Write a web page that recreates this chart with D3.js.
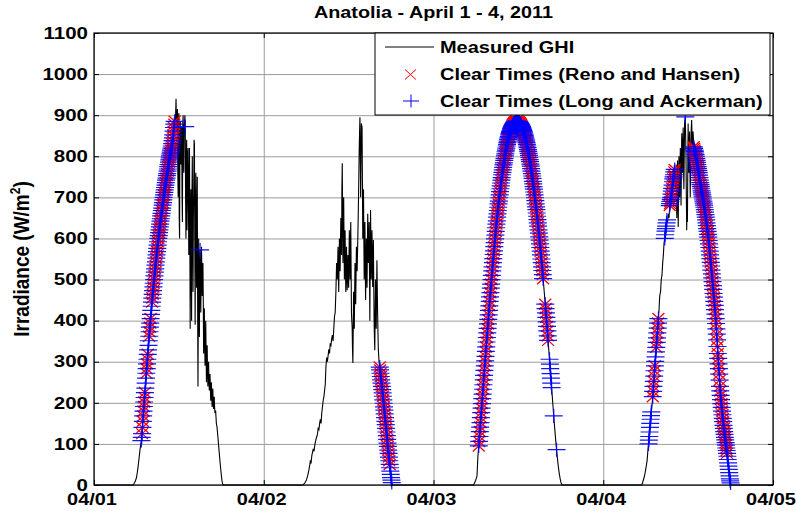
<!DOCTYPE html>
<html>
<head>
<meta charset="utf-8">
<script src="https://cdn.jsdelivr.net/npm/d3@7"></script>
<style>
  body { margin: 0; background: #fff; overflow: hidden; }
  svg { display: block; font-family: 'Liberation Sans', Arial, sans-serif; font-weight: bold; }
</style>
</head>
<body>
<svg id="chart" width="796" height="513"></svg>
<script>
// ---- data ----
const TITLE = 'Anatolia - April 1 - 4, 2011';
const DAY_LABELS = ['04/01', '04/02', '04/03', '04/04', '04/05'];
const Y_TICKS = [0, 100, 200, 300, 400, 500, 600, 700, 800, 900, 1000, 1100];
const LEGEND_LABELS = ['Measured GHI', 'Clear Times (Reno and Hansen)', 'Clear Times (Long and Ackerman)'];

// GHI samples every 3 minutes (one row = one hour), starting at these hours of each day (W/m2)
const SAMPLE_H = 0.05;
const GHI_START = [5.5, 5.5, 5.6, 5.4];
const GHI_0401 = [
  0, 1, 2, 3, 5, 6, 8, 10, 12, 15, 18, 23, 28, 34, 40, 47, 55, 62, 70, 77,
  85, 92, 98, 103, 108, 116, 125, 140, 155, 168, 180, 191, 202, 213, 225, 236, 248, 260, 272, 283,
  295, 306, 318, 329, 340, 351, 362, 373, 384, 394, 405, 415, 425, 435, 445, 455, 464, 473, 482, 491,
  500, 509, 518, 526, 535, 543, 552, 560, 568, 576, 584, 592, 600, 607, 614, 621, 628, 635, 642, 648,
  655, 661, 668, 674, 681, 687, 694, 700, 706, 712, 718, 724, 730, 736, 742, 747, 753, 758, 764, 769,
  775, 780, 786, 791, 796, 801, 806, 810, 815, 820, 825, 831, 838, 845, 852, 861, 870, 878, 885, 860,
  870, 910, 940, 880, 860, 900, 915, 760, 700, 880, 905, 650, 600, 870, 885, 820, 780, 860, 870, 700,
  640, 880, 900, 830, 760, 870, 880, 900, 872, 700, 600, 780, 840, 620, 690, 810, 820, 700, 560, 720,
  820, 600, 380, 650, 720, 520, 400, 700, 800, 620, 470, 650, 720, 840, 830, 600, 390, 620, 760, 650,
  480, 600, 750, 450, 240, 420, 600, 520, 360, 500, 572, 520, 420, 500, 580, 520, 460, 510, 540, 450,
  320, 380, 430, 350, 290, 330, 400, 320, 250, 300, 340, 280, 240, 270, 300, 260, 230, 250, 270, 240,
  205, 230, 250, 215, 190, 210, 235, 200, 185, 200, 215, 190, 175, 180, 180, 165, 150, 145, 140, 130,
  120, 110, 100, 90, 80, 70, 60, 51, 42, 33, 25, 17, 10, 5, 2, 1, 0
];
const GHI_0402 = [
  0, 0, 1, 2, 3, 4, 5, 6, 8, 9, 11, 13, 16, 19, 22, 26, 30, 34, 38, 43,
  48, 54, 60, 52, 55, 64, 72, 76, 80, 84, 88, 85, 82, 88, 95, 100, 105, 108, 112, 115,
  118, 121, 125, 132, 140, 137, 135, 142, 150, 155, 160, 155, 150, 162, 175, 182, 190, 197, 205, 210,
  215, 222, 230, 238, 245, 270, 290, 300, 310, 305, 300, 308, 315, 322, 330, 325, 320, 332, 345, 342,
  340, 348, 355, 360, 365, 358, 350, 365, 380, 395, 410, 415, 420, 445, 470, 505, 540, 520, 500, 540,
  580, 520, 470, 540, 600, 560, 520, 590, 650, 600, 560, 720, 783, 660, 540, 620, 700, 600, 500, 560,
  620, 540, 470, 520, 580, 520, 474, 520, 560, 520, 480, 550, 620, 560, 500, 570, 640, 530, 420, 400,
  384, 330, 297, 380, 470, 420, 380, 460, 540, 490, 440, 510, 580, 550, 520, 560, 600, 650, 700, 760,
  820, 860, 895, 800, 700, 790, 880, 875, 871, 740, 600, 660, 720, 610, 500, 570, 640, 540, 450, 520,
  600, 540, 480, 570, 660, 600, 540, 590, 640, 520, 400, 540, 669, 580, 500, 560, 620, 550, 482, 540,
  596, 500, 400, 360, 328, 420, 500, 440, 380, 460, 547, 480, 418, 370, 330, 315, 300, 293, 287, 280,
  272, 264, 256, 248, 240, 232, 224, 216, 207, 199, 190, 182, 173, 164, 155, 147, 138, 129, 120, 111,
  102, 94, 85, 77, 68, 59, 50, 42, 34, 26, 18, 12, 6, 3, 0
];
const GHI_0403 = [
  0, 1, 2, 3, 5, 7, 9, 11, 14, 16, 19, 22, 40, 60, 75, 86, 95, 106, 118, 130,
  141, 152, 164, 176, 187, 198, 210, 221, 233, 244, 256, 267, 279, 290, 302, 313, 325, 336, 348, 359,
  370, 381, 392, 403, 414, 425, 436, 447, 458, 468, 479, 489, 500, 510, 521, 531, 541, 551, 561, 570,
  580, 590, 599, 608, 617, 626, 635, 643, 652, 660, 668, 676, 684, 691, 699, 706, 714, 721, 728, 735,
  742, 748, 755, 761, 767, 773, 779, 784, 790, 795, 801, 806, 811, 815, 820, 825, 829, 833, 837, 841,
  845, 848, 852, 855, 858, 860, 863, 866, 868, 870, 872, 874, 876, 877, 879, 880, 881, 882, 883, 883,
  884, 884, 885, 885, 885, 885, 884, 884, 884, 883, 883, 882, 881, 880, 879, 877, 876, 874, 872, 870,
  868, 865, 863, 860, 857, 854, 851, 847, 844, 840, 837, 833, 829, 825, 821, 816, 812, 807, 802, 797,
  792, 787, 781, 776, 770, 764, 758, 752, 746, 739, 733, 726, 720, 713, 706, 699, 692, 684, 677, 670,
  662, 654, 646, 638, 630, 621, 613, 604, 596, 587, 578, 569, 560, 550, 541, 531, 522, 512, 502, 492,
  482, 471, 461, 450, 440, 429, 419, 408, 397, 386, 375, 363, 352, 340, 329, 317, 306, 294, 283, 271,
  260, 248, 237, 225, 214, 202, 191, 179, 168, 157, 146, 135, 125, 115, 105, 95, 86, 77, 68, 60,
  52, 45, 38, 32, 26, 21, 16, 12, 8, 5, 3, 1, 0
];
const GHI_0404 = [
  0, 1, 3, 5, 8, 11, 14, 17, 20, 24, 28, 33, 38, 43, 48, 54, 60, 70, 82, 91,
  100, 109, 118, 129, 140, 150, 160, 169, 178, 186, 195, 205, 215, 228, 240, 252, 265, 278, 290, 301,
  312, 324, 335, 347, 358, 370, 382, 394, 405, 418, 430, 450, 462, 466, 470, 485, 500, 505, 510, 525,
  540, 550, 560, 575, 590, 595, 600, 609, 618, 624, 630, 638, 645, 642, 640, 650, 660, 655, 650, 665,
  680, 685, 690, 695, 700, 708, 715, 722, 730, 738, 745, 750, 755, 762, 768, 740, 720, 760, 780, 700,
  650, 720, 790, 700, 628, 720, 800, 760, 700, 770, 820, 740, 680, 780, 856, 800, 760, 820, 870, 780,
  720, 800, 880, 890, 896, 850, 800, 700, 620, 700, 640, 760, 880, 820, 760, 820, 860, 780, 700, 780,
  840, 870, 888, 850, 810, 840, 860, 840, 823, 819, 815, 812, 808, 804, 800, 795, 790, 785, 780, 775,
  770, 765, 760, 754, 748, 742, 736, 731, 726, 721, 716, 711, 706, 701, 696, 691, 686, 681, 676, 670,
  664, 658, 652, 645, 638, 631, 624, 617, 610, 603, 595, 587, 578, 569, 560, 551, 542, 533, 523, 514,
  504, 495, 485, 476, 466, 457, 447, 437, 427, 416, 405, 393, 380, 367, 353, 337, 320, 308, 295, 283,
  270, 255, 240, 229, 218, 208, 198, 189, 180, 171, 162, 154, 145, 138, 130, 123, 116, 110, 103, 97,
  90, 84, 77, 70, 62, 54, 46, 38, 30, 22, 15, 10, 5, 2, 0
];

// clear periods: [day index, from hour, to hour]
const RENO_HANSEN = [
  [0, 6.8, 7.2], [0, 7.4, 7.6], [0, 7.8, 8.0], [0, 8.2, 11.4],
  [1, 16.4, 17.8],
  [2, 6.4, 15.5], [2, 15.8, 16.2],
  [3, 7.0, 7.3], [3, 7.5, 7.8], [3, 9.4, 10.1], [3, 12.8, 17.5]
];
const LONG_ACKERMAN = [
  [0, 6.7, 11.4], [0, 12.9, 12.9], [0, 15.0, 15.0],
  [1, 16.4, 18.1],
  [2, 6.4, 15.5], [2, 15.8, 16.2], [2, 16.4, 16.7], [2, 17.0, 17.0], [2, 17.4, 17.4],
  [3, 6.4, 6.8], [3, 7.0, 7.8], [3, 8.7, 9.0], [3, 9.4, 10.1], [3, 11.6, 11.6], [3, 12.8, 18.0]
];

// ---- build series ----
const toDate = (day, h) => new Date(Date.UTC(2011, 3, 1 + day) + h * 3600e3);
const points = [{ day: -1, h: 0, t: toDate(0, 0), v: 0 }];
[GHI_0401, GHI_0402, GHI_0403, GHI_0404].forEach((vals, d) => {
  vals.forEach((v, i) => {
    const h = Math.round((GHI_START[d] + i * SAMPLE_H) * 100) / 100;
    points.push({ day: d, h: h, t: toDate(d, h), v: v });
  });
});
points.push({ day: -1, h: 0, t: toDate(4, 0), v: 0 });

const inPeriods = (periods) => (p) =>
  periods.some(([d, a, b]) => p.day === d && p.h >= a - 1e-6 && p.h <= b + 1e-6);

// ---- chart ----
const SVG = d3.select('#chart');
const LEFT = 94, RIGHT = 773, TOP = 33, BOTTOM = 485;
const SX = 1.28; // the figure is stretched horizontally

const x = d3.scaleUtc().domain([toDate(0, 0), toDate(4, 0)]).range([LEFT, RIGHT]);
const y = d3.scaleLinear().domain([0, 1100]).range([BOTTOM, TOP]);
const DAY_TICKS = DAY_LABELS.map((d, i) => toDate(i, 0));

// grid
SVG.append('g')
  .attr('transform', `translate(0,${BOTTOM})`)
  .call(d3.axisBottom(x).tickValues(DAY_TICKS).tickSize(-(BOTTOM - TOP)).tickFormat(''))
  .call((g) => g.select('.domain').remove())
  .selectAll('line').attr('stroke', '#9c9c9c');
SVG.append('g')
  .attr('transform', `translate(${LEFT},0)`)
  .call(d3.axisLeft(y).tickValues(Y_TICKS).tickSize(-(RIGHT - LEFT)).tickFormat(''))
  .call((g) => g.select('.domain').remove())
  .selectAll('line').attr('stroke', '#9c9c9c');

// measured GHI
SVG.append('path')
  .datum(points)
  .attr('fill', 'none')
  .attr('stroke', '#000')
  .attr('stroke-width', 1.1)
  .attr('d', d3.line().x((d) => x(d.t)).y((d) => y(d.v)));

const X_MARK = 'M-6,-5.5L6,5.5M-6,5.5L6,-5.5';
const PLUS_MARK = 'M-9,0H9M0,-7V7';

SVG.append('g').selectAll('path')
  .data(points.filter(inPeriods(RENO_HANSEN)))
  .join('path')
  .attr('transform', (d) => `translate(${x(d.t)},${y(d.v)})`)
  .attr('d', X_MARK)
  .attr('stroke', '#ff0000')
  .attr('stroke-width', 1.3)
  .attr('fill', 'none');

SVG.append('g').selectAll('path')
  .data(points.filter(inPeriods(LONG_ACKERMAN)))
  .join('path')
  .attr('transform', (d) => `translate(${x(d.t)},${y(d.v)})`)
  .attr('d', PLUS_MARK)
  .attr('stroke', '#0000ff')
  .attr('stroke-width', 1.2)
  .attr('stroke-opacity', 0.92)
  .attr('fill', 'none');

// axes box and inward ticks
const tickAxis = (axis, tx, ty) => SVG.append('g')
  .attr('transform', `translate(${tx},${ty})`)
  .call(axis.tickSize(-5).tickFormat(''))
  .call((g) => g.select('.domain').remove())
  .selectAll('line').attr('stroke', '#000');
tickAxis(d3.axisBottom(x).tickValues(DAY_TICKS), 0, BOTTOM);
tickAxis(d3.axisTop(x).tickValues(DAY_TICKS), 0, TOP);
tickAxis(d3.axisLeft(y).tickValues(Y_TICKS), LEFT, 0);
tickAxis(d3.axisRight(y).tickValues(Y_TICKS), RIGHT, 0);

SVG.append('rect')
  .attr('x', LEFT).attr('y', TOP)
  .attr('width', RIGHT - LEFT).attr('height', BOTTOM - TOP)
  .attr('fill', 'none').attr('stroke', '#000').attr('stroke-width', 1.2);

// text
function addText(px, py, str, size, anchor, sx = SX) {
  return SVG.append('text')
    .attr('transform', `translate(${px},${py}) scale(${sx},1)`)
    .attr('text-anchor', anchor)
    .style('font-size', `${size}px`)
    .text(str);
}

Y_TICKS.forEach((v) => addText(88, y(v) + 5.7, v, 16, 'end'));
DAY_LABELS.forEach((lab, i) => addText(x(DAY_TICKS[i]) - 2, 505, lab, 15.6, 'middle'));
addText((LEFT + RIGHT) / 2, 18, TITLE, 16.5, 'middle', 1.2);

const YLAB = SVG.append('text')
  .attr('transform', `translate(28.5,${(TOP + BOTTOM) / 2}) scale(1.15,1) rotate(-90)`)
  .attr('text-anchor', 'middle')
  .style('font-size', '19px');
YLAB.append('tspan').text('Irradiance (W/m');
YLAB.append('tspan').attr('dy', -7).style('font-size', '12px').text('2');
YLAB.append('tspan').attr('dy', 7).text(')');

// legend
const LEG = SVG.append('g');
LEG.append('rect')
  .attr('x', 375).attr('y', 33).attr('width', 395).attr('height', 82)
  .attr('fill', '#fff').attr('stroke', '#000');
const ROW_Y = [47, 74.5, 101];
LEG.append('line')
  .attr('x1', 385).attr('x2', 434).attr('y1', ROW_Y[0]).attr('y2', ROW_Y[0])
  .attr('stroke', '#000');
LEG.append('path')
  .attr('transform', `translate(410.5,${ROW_Y[1]})`)
  .attr('d', 'M-5.5,-5L5.5,5M-5.5,5L5.5,-5').attr('stroke', '#ff0000').attr('fill', 'none');
LEG.append('path')
  .attr('transform', `translate(411,${ROW_Y[2]})`)
  .attr('d', 'M-8,0H8M0,-6.5V6.5').attr('stroke', '#0000ff').attr('fill', 'none');
LEGEND_LABELS.forEach((lab, i) => addText(440, ROW_Y[i] + 5.6, lab, 15.6, 'start'));
</script>
</body>
</html>
